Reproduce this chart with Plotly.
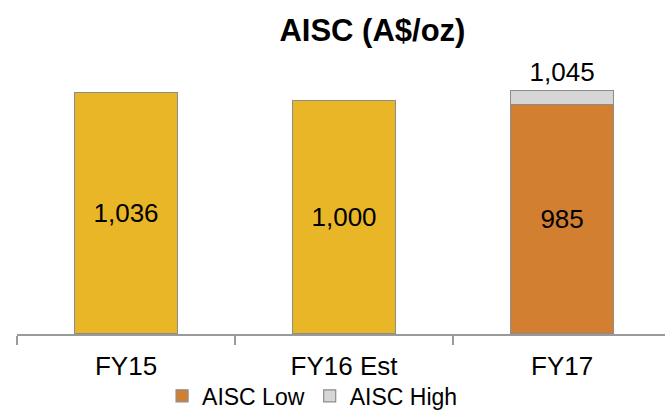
import plotly.graph_objects as go

categories = ["FY15", "FY16 Est", "FY17"]
actual_values = [1036, 1000, None]
aisc_low = [None, None, 985]
aisc_high = [None, None, 1045]

def fmt(v):
    return "" if v is None else f"{v:,}"

high_increment = [None if (h is None or l is None) else h - l for h, l in zip(aisc_high, aisc_low)]

LABEL_SIZE = 26
border = dict(color="#8C8C8C", width=1.2)

fig = go.Figure()
fig.add_trace(go.Bar(
    x=categories, y=actual_values, name="Actual/Est", showlegend=False,
    marker=dict(color="#E9B628", line=border),
    text=[fmt(v) for v in actual_values], textposition="inside", insidetextanchor="middle",
    textfont=dict(size=LABEL_SIZE, color="#000000"), width=0.47,
))
fig.add_trace(go.Bar(
    x=categories, y=aisc_low, name="AISC Low",
    marker=dict(color="#D27F32", line=border),
    text=[fmt(v) for v in aisc_low], textposition="inside", insidetextanchor="middle",
    textfont=dict(size=LABEL_SIZE, color="#000000"), width=0.47,
))
fig.add_trace(go.Bar(
    x=categories, y=high_increment, name="AISC High",
    marker=dict(color="#D6D6D6", line=border),
    text=[fmt(v) for v in aisc_high], textposition="outside",
    textfont=dict(size=LABEL_SIZE, color="#000000"), width=0.47, cliponaxis=False,
))

fig.update_layout(
    width=665, height=412,
    barmode="stack",
    paper_bgcolor="white", plot_bgcolor="white",
    margin=dict(l=17, r=0, t=60, b=78, autoexpand=False),
    font=dict(family="Liberation Sans, Arial, sans-serif", size=24, color="#000000"),
    title=dict(text="<b>AISC (A$/oz)</b>", x=0.56, xanchor="center", xref="container",
               y=0.927, yanchor="middle", yref="container",
               font=dict(size=31, color="#000000")),
    xaxis=dict(range=[-0.5, 2.472], showline=True, linecolor="#9A9A9A", linewidth=2,
               ticks="outside", tickson="boundaries", ticklen=9, tickcolor="#9A9A9A", tickwidth=2,
               tickfont=dict(size=26), ticklabelstandoff=8, showgrid=False, automargin=False),
    yaxis=dict(range=[0, 1175], visible=False),
    legend=dict(orientation="h", x=0.47, xanchor="center", xref="container",
                y=-0.226, yanchor="middle", yref="paper", bgcolor="rgba(0,0,0,0)",
                font=dict(size=23), traceorder="normal", itemwidth=30, tracegroupgap=0),
)

fig.write_html("out.html", config={"displayModeBar": False},
               post_script="document.body.style.margin='0';document.body.style.overflow='hidden';")
